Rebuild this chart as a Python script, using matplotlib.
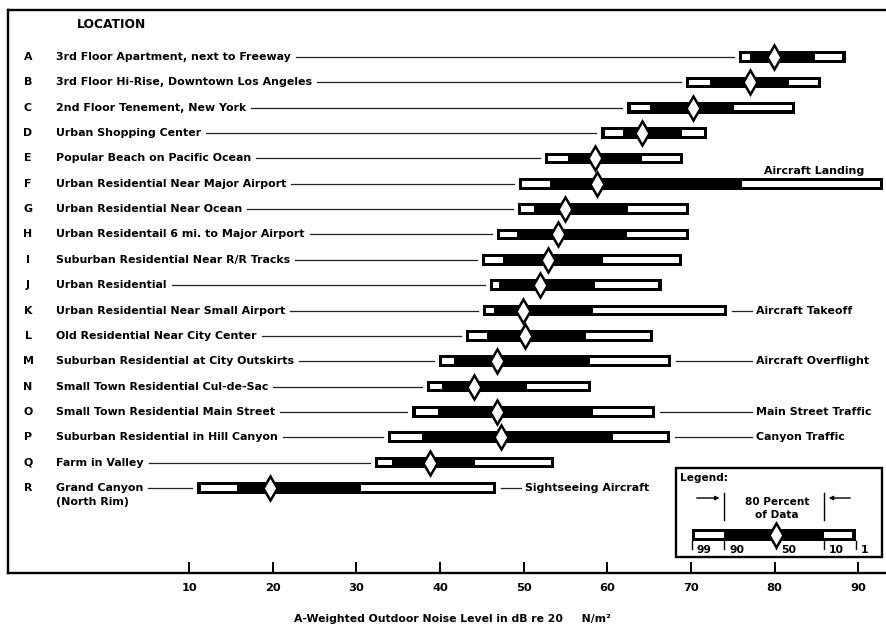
import matplotlib
matplotlib.use("Agg")
import matplotlib.pyplot as plt
from matplotlib.patches import Rectangle

# ---------------- data ----------------
letters = list("ABCDEFGHIJKLMNOPQR")
locations = [
    "3rd Floor Apartment, next to Freeway",
    "3rd Floor Hi-Rise, Downtown Los Angeles",
    "2nd Floor Tenement, New York",
    "Urban Shopping Center",
    "Popular Beach on Pacific Ocean",
    "Urban Residential Near Major Airport",
    "Urban Residential Near Ocean",
    "Urban Residentail 6 mi. to Major Airport",
    "Suburban Residential Near R/R Tracks",
    "Urban Residential",
    "Urban Residential Near Small Airport",
    "Old Residential Near City Center",
    "Suburban Residential at City Outskirts",
    "Small Town Residential Cul-de-Sac",
    "Small Town Residential Main Street",
    "Suburban Residential in Hill Canyon",
    "Farm in Valley",
    "Grand Canyon",
]
sublabel_R = "(North Rim)"

p99 = [75.7, 69.4, 62.4, 59.3, 52.5, 49.4, 49.3, 46.8, 45.0, 46.0, 45.1, 43.1, 39.9, 38.4, 36.7, 33.8, 32.2, 11.0]
p90 = [77.1, 72.3, 65.1, 61.9, 55.3, 53.1, 51.2, 49.2, 47.5, 47.0, 46.4, 45.6, 41.7, 40.2, 39.8, 37.8, 34.3, 15.7]
p50 = [79.9, 77.1, 70.2, 64.2, 58.5, 58.8, 54.9, 54.1, 52.9, 51.9, 49.9, 50.2, 46.8, 44.1, 46.8, 47.3, 38.8, 19.7]
p10 = [84.8, 81.7, 75.1, 68.9, 64.1, 76.1, 62.5, 62.3, 59.5, 58.5, 58.3, 57.5, 57.9, 50.4, 58.3, 60.7, 44.2, 30.6]
p1  = [88.5, 85.6, 82.5, 71.9, 69.1, 93.0, 69.8, 69.8, 68.9, 66.5, 74.3, 65.5, 67.6, 58.1, 65.7, 67.5, 53.6, 46.7]

ann_rows = ["K", "M", "O", "P", "R"]
ann_texts = ["Aircraft Takeoff", "Aircraft Overflight", "Main Street Traffic",
             "Canyon Traffic", "Sightseeing Aircraft"]
landing_row = "F"
landing_text = "Aircraft Landing"

xticks = [10, 20, 30, 40, 50, 60, 70, 80, 90]
xtick_labels = ["10", "20", "30", "40", "50", "60", "70", "80", "90"]

legend_pcts = ["99", "90", "50", "10", "1"]
legend_vals = [70.1, 74.0, 80.2, 85.9, 89.7]

header = "LOCATION"
xlabel = "A-Weighted Outdoor Noise Level in dB re 20     N/m\u00b2"

# ---------------- style ----------------
FONT = ["DejaVu Sans"]
plt.rcParams["font.family"] = FONT
plt.rcParams["font.weight"] = "bold"
FS = 7.9

W, H = 887, 628
fig = plt.figure(figsize=(W / 100, H / 100), dpi=100)
ax_left_px, ax_right_px, ax_top_px, ax_bot_px = 8, 885, 10, 573
ax = fig.add_axes([ax_left_px / W, 1 - ax_bot_px / H,
                   (ax_right_px - ax_left_px) / W, (ax_bot_px - ax_top_px) / H])

# pixel <-> data helpers for layout
X0PX, XSCALE = 105.5, 8.363          # px of 0 dB, px per dB
Y0PX, YSCALE = 57.0, 25.35           # px of row A, px per row
def dx(px): return (px - X0PX) / XSCALE
def ry(px): return (px - Y0PX) / YSCALE

ax.set_xlim(dx(ax_left_px), dx(ax_right_px))
ax.set_ylim(ry(ax_bot_px), ry(ax_top_px))

for s in ["left", "top", "bottom"]:
    ax.spines[s].set_linewidth(1.7)
ax.spines["right"].set_visible(False)
ax.set_yticks([])
ax.set_xticks(xticks)
ax.set_xticklabels(xtick_labels, fontsize=8.2, fontweight="bold")
ax.tick_params(axis="x", direction="in", length=8, width=1.4, pad=7)

BAR_H = 0.46
INX = 0.38
INY = 0.12

def draw_bar(row, a, b, c, d, e, z=3):
    ax.add_patch(Rectangle((a, row - BAR_H / 2), e - a, BAR_H, fc="black", ec="none", zorder=z))
    ax.add_patch(Rectangle((a + INX, row - BAR_H / 2 + INY), b - a - INX, BAR_H - 2 * INY,
                           fc="white", ec="none", zorder=z + 1))
    ax.add_patch(Rectangle((d, row - BAR_H / 2 + INY), e - d - INX, BAR_H - 2 * INY,
                           fc="white", ec="none", zorder=z + 1))
    ax.plot([c], [row], marker="d", ms=12, mfc="white", mec="black", mew=1.8, zorder=z + 2)

# header
ax.text(dx(77), ry(24), header, fontsize=8.8, fontweight="bold", ha="left", va="center")

label_texts = []
for i, (let, loc) in enumerate(zip(letters, locations)):
    ax.text(dx(28), i, let, fontsize=FS, fontweight="bold", ha="center", va="center")
    t = ax.text(dx(56), i, loc, fontsize=FS, fontweight="bold", ha="left", va="center")
    label_texts.append(t)
    draw_bar(i, p99[i], p90[i], p50[i], p10[i], p1[i])
ax.text(dx(56), len(letters) - 1 + 0.56, sublabel_R, fontsize=FS, fontweight="bold",
        ha="left", va="center")

# right-side annotations
ann_x = dx(756)
for r, txt in zip(ann_rows, ann_texts):
    i = letters.index(r)
    tx = ann_x if r != "R" else dx(525)
    ax.text(tx, i, txt, fontsize=FS, fontweight="bold", ha="left", va="center")
    ax.plot([p1[i] + 0.6, tx - 0.5], [i, i], color="#222222", lw=0.9, zorder=2)
fi = letters.index(landing_row)
ax.text(dx(864), fi - 0.5, landing_text, fontsize=FS, fontweight="bold", ha="right", va="center")

# leader lines from labels to bars
fig.canvas.draw()
inv = ax.transData.inverted()
for i, t in enumerate(label_texts):
    bb = t.get_window_extent()
    xend = inv.transform((bb.x1, 0))[0]
    ax.plot([xend + 0.6, p99[i] - 0.6], [i, i], color="#222222", lw=0.9, zorder=2)

# ---------------- legend box ----------------
lx0, lx1 = dx(676), dx(882)
ly0, ly1 = ry(468), ry(557)
ax.add_patch(Rectangle((lx0, ly0), lx1 - lx0, ly1 - ly0, fc="white", ec="black", lw=1.7, zorder=6))
ax.text(dx(680), ry(478), "Legend:", fontsize=7.6, fontweight="bold", ha="left", va="center", zorder=7)
ax.text(dx(777), ry(502), "80 Percent", fontsize=7.6, fontweight="bold", ha="center", va="center", zorder=7)
ax.text(dx(777), ry(515), "of Data", fontsize=7.6, fontweight="bold", ha="center", va="center", zorder=7)

lrow = ry(535)
a, b, c, d, e = legend_vals
draw_bar(lrow, a, b, c, d, e, z=7)

# brackets / arrows for 80 percent
ay = ry(498)
ax.plot([b, b], [ry(493), ry(520)], color="black", lw=1.0, zorder=7)
ax.plot([d, d], [ry(493), ry(520)], color="black", lw=1.0, zorder=7)
ax.annotate("", xy=(b - 0.25, ay), xytext=(dx(694), ay),
            arrowprops=dict(arrowstyle="-|>", color="black", lw=1.0, mutation_scale=6), zorder=7)
ax.annotate("", xy=(d + 0.25, ay), xytext=(dx(853), ay),
            arrowprops=dict(arrowstyle="-|>", color="black", lw=1.0, mutation_scale=6), zorder=7)

for v, lab in zip(legend_vals, legend_pcts):
    ax.plot([v, v], [lrow + BAR_H / 2, ry(549)], color="black", lw=1.0, zorder=7)
    ax.text(v + 0.6, ry(550), lab, fontsize=7.8, fontweight="bold", ha="left", va="center", zorder=7)

fig.text(452 / W, 1 - 619 / H, xlabel, fontsize=7.8, fontweight="bold", ha="center", va="center")

fig.savefig("out.png", dpi=100, facecolor="white")
